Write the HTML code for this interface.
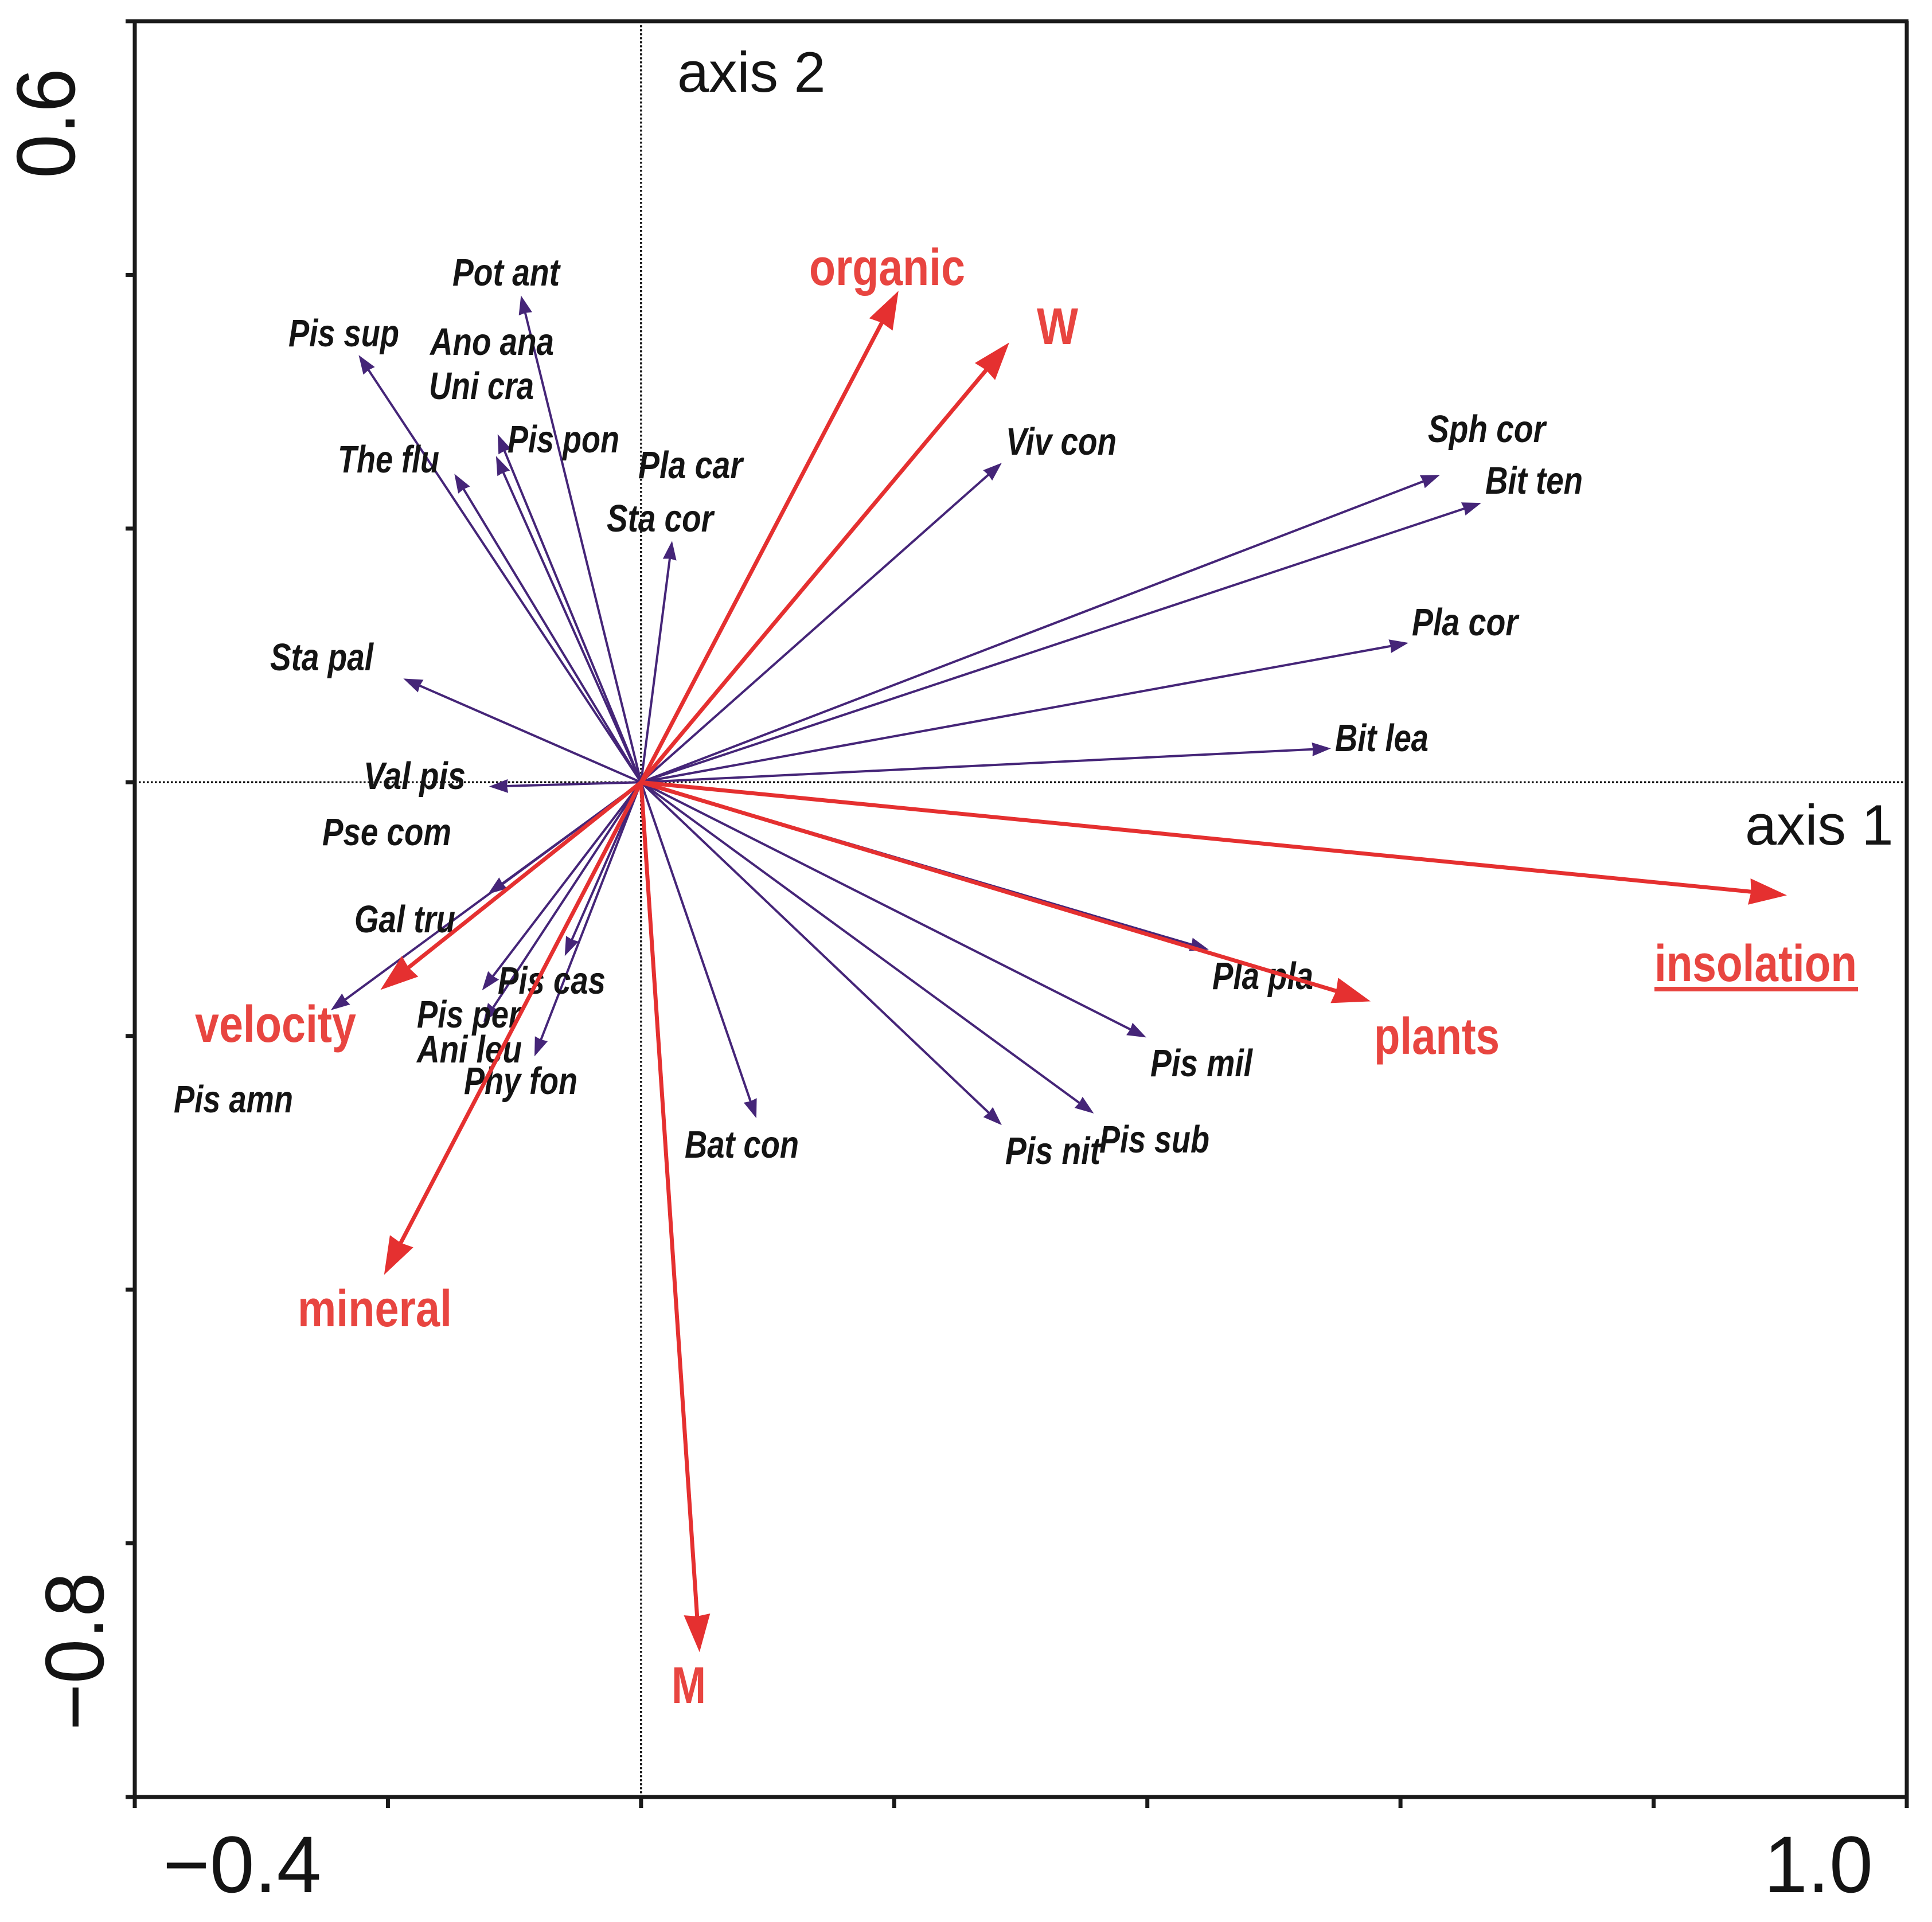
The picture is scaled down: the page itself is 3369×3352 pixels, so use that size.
<!DOCTYPE html>
<html lang="en">
<head>
<meta charset="utf-8">
<title>Ordination biplot</title>
<style>
html,body{margin:0;padding:0;background:#fff;}
svg{display:block;}
text{font-family:"Liberation Sans",sans-serif;}
.sp{font-size:67px;font-weight:bold;font-style:italic;fill:#141414;}
.env{font-size:90px;font-weight:bold;fill:#e84540;}
.ax{font-size:99px;fill:#141414;}
.tk{font-size:140px;fill:#141414;}
</style>
</head>
<body>
<svg id="chart" xmlns="http://www.w3.org/2000/svg" width="3369" height="3352" viewBox="0 0 3369 3352">
<rect x="0" y="0" width="3369" height="3352" fill="#ffffff"/>
<g id="zero-lines"></g>
<g id="species-arrows"></g>
<g id="species-labels" transform="translate(-2 -1)">
<text class="sp" x="791" y="499" textLength="187" lengthAdjust="spacingAndGlyphs">Pot ant</text>
<text class="sp" x="505" y="605" textLength="193" lengthAdjust="spacingAndGlyphs">Pis sup</text>
<text class="sp" x="752" y="620" textLength="216" lengthAdjust="spacingAndGlyphs">Ano ana</text>
<text class="sp" x="750" y="697" textLength="183" lengthAdjust="spacingAndGlyphs">Uni cra</text>
<text class="sp" x="591" y="825" textLength="177" lengthAdjust="spacingAndGlyphs">The flu</text>
<text class="sp" x="887" y="790" textLength="195" lengthAdjust="spacingAndGlyphs">Pis pon</text>
<text class="sp" x="1115" y="835" textLength="182" lengthAdjust="spacingAndGlyphs">Pla car</text>
<text class="sp" x="1060" y="928" textLength="186" lengthAdjust="spacingAndGlyphs">Sta cor</text>
<text class="sp" x="473" y="1170" textLength="180" lengthAdjust="spacingAndGlyphs">Sta pal</text>
<text class="sp" x="636" y="1377" textLength="178" lengthAdjust="spacingAndGlyphs">Val pis</text>
<text class="sp" x="564" y="1475" textLength="225" lengthAdjust="spacingAndGlyphs">Pse com</text>
<text class="sp" x="620" y="1627" textLength="176" lengthAdjust="spacingAndGlyphs">Gal tru</text>
<text class="sp" x="1756" y="794" textLength="193" lengthAdjust="spacingAndGlyphs">Viv con</text>
<text class="sp" x="2492" y="772" textLength="205" lengthAdjust="spacingAndGlyphs">Sph cor</text>
<text class="sp" x="2592" y="862" textLength="170" lengthAdjust="spacingAndGlyphs">Bit ten</text>
<text class="sp" x="2464" y="1109" textLength="185" lengthAdjust="spacingAndGlyphs">Pla cor</text>
<text class="sp" x="2330" y="1311" textLength="163" lengthAdjust="spacingAndGlyphs">Bit lea</text>
<text class="sp" x="2116" y="1726" textLength="176" lengthAdjust="spacingAndGlyphs">Pla pla</text>
<text class="sp" x="2008" y="1878" textLength="178" lengthAdjust="spacingAndGlyphs">Pis mil</text>
<text class="sp" x="1919" y="2011" textLength="192" lengthAdjust="spacingAndGlyphs">Pis sub</text>
<text class="sp" x="1755" y="2031" textLength="166" lengthAdjust="spacingAndGlyphs">Pis nit</text>
<text class="sp" x="870" y="1734" textLength="188" lengthAdjust="spacingAndGlyphs">Pis cas</text>
<text class="sp" x="729" y="1793" textLength="181" lengthAdjust="spacingAndGlyphs">Pis per</text>
<text class="sp" x="729" y="1854" textLength="183" lengthAdjust="spacingAndGlyphs">Ani leu</text>
<text class="sp" x="811" y="1909" textLength="198" lengthAdjust="spacingAndGlyphs">Phy fon</text>
<text class="sp" x="305" y="1941" textLength="208" lengthAdjust="spacingAndGlyphs">Pis amn</text>
<text class="sp" x="1196" y="2020" textLength="199" lengthAdjust="spacingAndGlyphs">Bat con</text>
</g>
<g id="environment-arrows"></g>
<g id="environment-labels">
<text class="env" x="1411" y="497" textLength="272" lengthAdjust="spacingAndGlyphs">organic</text>
<text class="env" x="1808" y="600" textLength="72" lengthAdjust="spacingAndGlyphs">W</text>
<text class="env" x="2885" y="1711" textLength="353" lengthAdjust="spacingAndGlyphs">insolation</text>
<rect x="2885" y="1721" width="355" height="8" fill="#e84540"/>
<text class="env" x="2396" y="1838" textLength="219" lengthAdjust="spacingAndGlyphs">plants</text>
<text class="env" x="340" y="1817" textLength="281" lengthAdjust="spacingAndGlyphs">velocity</text>
<text class="env" x="519" y="2313" textLength="269" lengthAdjust="spacingAndGlyphs">mineral</text>
<text class="env" x="1171" y="2970" textLength="60" lengthAdjust="spacingAndGlyphs">M</text>
</g>
<g id="axes"></g>
<g id="axis-text">
<text class="ax" x="1181" y="160">axis 2</text>
<text class="ax" x="3043" y="1473">axis 1</text>
<text class="tk" x="284" y="3300">−0.4</text>
<text class="tk" x="3076" y="3300" textLength="190" lengthAdjust="spacingAndGlyphs">1.0</text>
<text class="tk" style="font-size:145px" textLength="192" lengthAdjust="spacingAndGlyphs" transform="translate(130 311) rotate(-90)">0.6</text>
<text class="tk" style="font-size:145px" textLength="276" lengthAdjust="spacingAndGlyphs" transform="translate(180 3018) rotate(-90)">−0.8</text>
</g>
</svg>
<script>
const speciesNames = ["Pot ant","Pis sup","The flu","Uni cra","Pis pon","Sta cor","Sta pal","Val pis","Gal tru","Viv con","Sph cor","Bit ten","Pla cor","Bit lea","Pla pla","Pis mil","Pis sub","Pis nit","Bat con","Phy fon","Pis cas","Ani leu","Pis per","Pis amn"];
const speciesAxis1 = [-0.0949,-0.2231,-0.1475,-0.1146,-0.1133,0.0245,-0.1878,-0.1201,-0.1210,0.2850,0.6312,0.6638,0.6063,0.5451,0.4486,0.3992,0.3577,0.2850,0.0911,-0.0842,-0.0603,-0.1246,-0.1256,-0.2451];
const speciesAxis2 = [0.3838,0.3368,0.2432,0.2572,0.2744,0.1903,0.0818,-0.0034,-0.0882,0.2518,0.2423,0.2202,0.1099,0.0267,-0.1320,-0.2012,-0.2611,-0.2703,-0.2649,-0.2161,-0.1370,-0.1894,-0.1641,-0.1797];
const envNames = ["organic","W","insolation","plants","M","mineral","velocity"];
const envAxis1 = [0.2034,0.2909,0.9053,0.5764,0.0462,-0.2030,-0.2059];
const envAxis2 = [0.3874,0.3467,-0.0891,-0.1727,-0.6858,-0.3883,-0.1637];
const xTicks = [-0.4,-0.2,0,0.2,0.4,0.6,0.8,1.0];
const yTicks = [0.6,0.4,0.2,0,-0.2,-0.4,-0.6,-0.8];

const SVGNS = "http://www.w3.org/2000/svg";
const xMin = -0.4, xMax = 1.0, yMin = -0.8, yMax = 0.6;
const plotLeft = 235, plotRight = 3325, plotTop = 37, plotBottom = 3134;
function xScale(v){ return plotLeft + (v - xMin) / (xMax - xMin) * (plotRight - plotLeft); }
function yScale(v){ return plotTop + (yMax - v) / (yMax - yMin) * (plotBottom - plotTop); }
function slug(s){ return s.toLowerCase().replace(/\s+/g, '-'); }

function drawLine(parent, name, x1, y1, x2, y2, stroke, width, dash, cap){
  const l = document.createElementNS(SVGNS, 'line');
  
  
  l.setAttribute('x1', x1); l.setAttribute('y1', y1);
  l.setAttribute('x2', x2); l.setAttribute('y2', y2);
  l.setAttribute('stroke', stroke);
  l.setAttribute('stroke-width', width);
  if (dash) l.setAttribute('stroke-dasharray', dash);
  if (cap) l.setAttribute('stroke-linecap', cap);
  parent.appendChild(l);
}

function drawArrow(parent, name, xv, yv, color, lineW, headL, headW){
  const ox = xScale(0), oy = yScale(0), tx = xScale(xv), ty = yScale(yv);
  const len = Math.hypot(tx - ox, ty - oy) || 1;
  const ux = (tx - ox) / len, uy = (ty - oy) / len;
  const px = -uy, py = ux;
  const bx = tx - ux * headL, by = ty - uy * headL;
  const g = document.createElementNS(SVGNS, 'g');
  
  
  const shaft = document.createElementNS(SVGNS, 'line');
  
  
  shaft.setAttribute('x1', ox); shaft.setAttribute('y1', oy);
  shaft.setAttribute('x2', bx + ux * 4); shaft.setAttribute('y2', by + uy * 4);
  shaft.setAttribute('stroke', color);
  shaft.setAttribute('stroke-width', lineW);
  g.appendChild(shaft);
  const head = document.createElementNS(SVGNS, 'polygon');
  
  
  head.setAttribute('points', [
    tx + ',' + ty,
    (bx + px * headW / 2) + ',' + (by + py * headW / 2),
    (bx + ux * headL * 0.05) + ',' + (by + uy * headL * 0.05),
    (bx - px * headW / 2) + ',' + (by - py * headW / 2)
  ].join(' '));
  head.setAttribute('fill', color);
  g.appendChild(head);
  parent.appendChild(g);
}

const zeroGroup = document.getElementById('zero-lines');
drawLine(zeroGroup, 'zero-line-horizontal', plotLeft, yScale(0), plotRight, yScale(0), '#111111', 3.5, '3.5 3.5');
drawLine(zeroGroup, 'zero-line-vertical', xScale(0), plotTop, xScale(0), plotBottom, '#111111', 3.5, '3.5 3.5');

const speciesGroup = document.getElementById('species-arrows');
speciesNames.forEach(function(n, i){
  drawArrow(speciesGroup, 'species-arrow-' + slug(n), speciesAxis1[i], speciesAxis2[i], '#452578', 4, 33, 24);
});

const envGroup = document.getElementById('environment-arrows');
envNames.forEach(function(n, i){
  drawArrow(envGroup, 'environment-arrow-' + slug(n), envAxis1[i], envAxis2[i], '#e53030', 7, 66, 46);
});

const axesGroup = document.getElementById('axes');
const frameColor = '#1a1a1a';
drawLine(axesGroup, 'frame-top', plotLeft - 16, plotTop, plotRight + 3, plotTop, frameColor, 7);
drawLine(axesGroup, 'frame-right', plotRight, plotTop, plotRight, plotBottom + 19, frameColor, 7);
drawLine(axesGroup, 'frame-bottom', plotLeft - 16, plotBottom, plotRight + 3, plotBottom, frameColor, 7);
drawLine(axesGroup, 'frame-left', plotLeft, plotTop, plotLeft, plotBottom + 19, frameColor, 7);
xTicks.forEach(function(v){
  drawLine(axesGroup, 'x-tick', xScale(v), plotBottom, xScale(v), plotBottom + 19, frameColor, 7);
});
yTicks.forEach(function(v){
  drawLine(axesGroup, 'y-tick', plotLeft - 16, yScale(v), plotLeft, yScale(v), frameColor, 7);
});
</script>
</body>
</html>
